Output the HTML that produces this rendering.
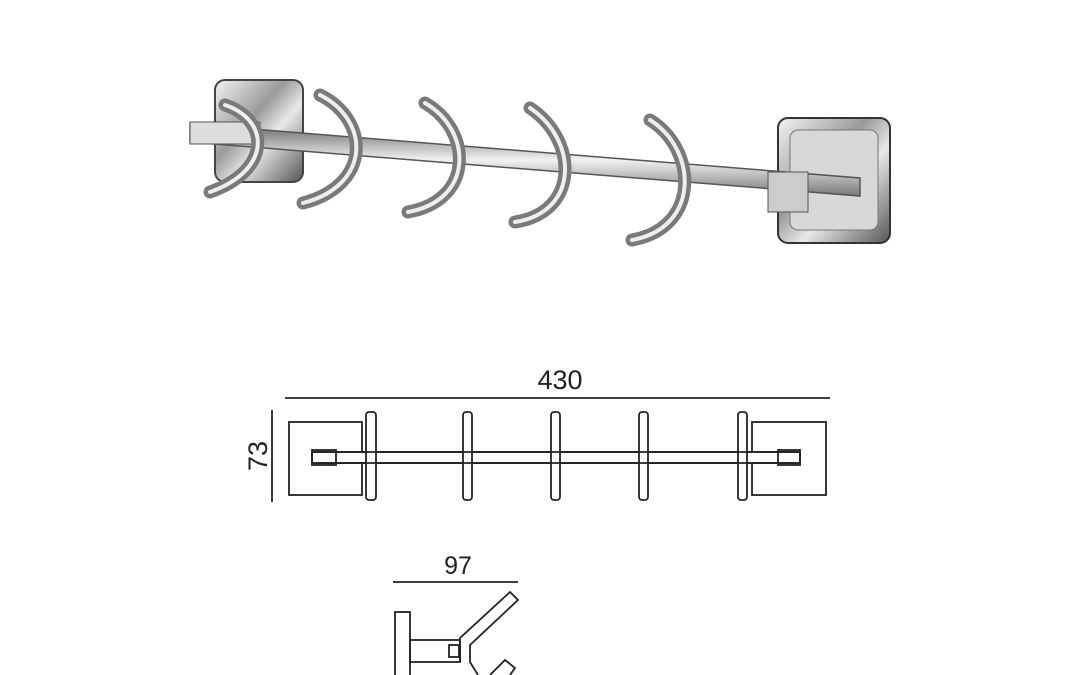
<!DOCTYPE html>
<html><head><meta charset="utf-8"><style>
html,body{margin:0;padding:0;background:#fff;}
svg{display:block}
text{font-family:"Liberation Sans",sans-serif;fill:#222}
</style></head><body>
<svg width="1080" height="675" viewBox="0 0 1080 675" xmlns="http://www.w3.org/2000/svg">
<defs>
<linearGradient id="chrome" x1="0" y1="0" x2="1" y2="1">
<stop offset="0" stop-color="#f4f4f4"/><stop offset="0.4" stop-color="#9a9a9a"/><stop offset="0.6" stop-color="#e8e8e8"/><stop offset="1" stop-color="#555"/>
</linearGradient>
<linearGradient id="bar" x1="0" y1="0" x2="0" y2="1">
<stop offset="0" stop-color="#666"/><stop offset="0.5" stop-color="#f2f2f2"/><stop offset="1" stop-color="#777"/>
</linearGradient>
</defs>
<!-- photo -->
<rect x="215" y="80" width="88" height="102" rx="10" fill="url(#chrome)" stroke="#444" stroke-width="2"/>
<rect x="778" y="118" width="112" height="125" rx="10" fill="url(#chrome)" stroke="#333" stroke-width="2"/>
<rect x="790" y="130" width="88" height="100" rx="8" fill="#d8d8d8" stroke="#777"/>
<polygon points="190,124 860,178 860,196 190,142" fill="url(#bar)" stroke="#555" stroke-width="1.5"/>
<rect x="190" y="122" width="70" height="22" fill="#ddd" stroke="#555"/>
<rect x="768" y="172" width="40" height="40" fill="#ccc" stroke="#555"/>
<g fill="none" stroke="#7a7a7a" stroke-width="13" stroke-linecap="round" stroke-linejoin="round">
<path d="M225,105 C270,120 272,170 210,192"/>
<path d="M320,95 C370,120 372,185 303,203"/>
<path d="M425,103 C472,130 475,200 408,212"/>
<path d="M530,108 C578,140 580,212 515,222"/>
<path d="M650,120 C698,150 700,228 632,240"/>
</g>
<g fill="none" stroke="#eee" stroke-width="4" stroke-linecap="round">
<path d="M225,105 C270,120 272,170 210,192"/>
<path d="M320,95 C370,120 372,185 303,203"/>
<path d="M425,103 C472,130 475,200 408,212"/>
<path d="M530,108 C578,140 580,212 515,222"/>
<path d="M650,120 C698,150 700,228 632,240"/>
</g>
<!-- front drawing -->
<g fill="none" stroke="#222" stroke-width="1.8">
<line x1="285" y1="398" x2="830" y2="398"/>
<text x="560" y="389" font-size="27" text-anchor="middle" stroke="none">430</text>
<line x1="272" y1="410" x2="272" y2="502"/>
<rect x="289" y="422" width="73" height="73" fill="#fff"/>
<rect x="752" y="422" width="74" height="73" fill="#fff"/>
<rect x="312" y="452" width="488" height="11" fill="#fff"/>
<rect x="312" y="450" width="24" height="15"/>
<rect x="778" y="450" width="22" height="15"/>
<rect x="366" y="412" width="10" height="88" rx="3" fill="#fff"/>
<rect x="463" y="412" width="9" height="88" rx="3" fill="#fff"/>
<rect x="551" y="412" width="9" height="88" rx="3" fill="#fff"/>
<rect x="639" y="412" width="9" height="88" rx="3" fill="#fff"/>
<rect x="738" y="412" width="9" height="88" rx="3" fill="#fff"/>
<line x1="312" y1="452" x2="800" y2="452"/>
<line x1="312" y1="463" x2="800" y2="463"/>
</g>
<text x="0" y="0" font-size="27" text-anchor="middle" transform="translate(267,456) rotate(-90)">73</text>
<!-- side drawing -->
<text x="458" y="574" font-size="25" text-anchor="middle">97</text>
<g fill="none" stroke="#222" stroke-width="1.8">
<line x1="393" y1="582" x2="518" y2="582"/>
<rect x="395" y="612" width="15" height="70" fill="#fff"/>
<rect x="410" y="640" width="50" height="22"/>
<rect x="449" y="645" width="10" height="12"/>
<path d="M460,638 L510,592 L518,600 L470,645 L470,662 L478,675 M460,662 L460,638"/>
<path d="M490,675 L505,660 L515,668 L510,675"/>
</g>
</svg>
</body></html>
